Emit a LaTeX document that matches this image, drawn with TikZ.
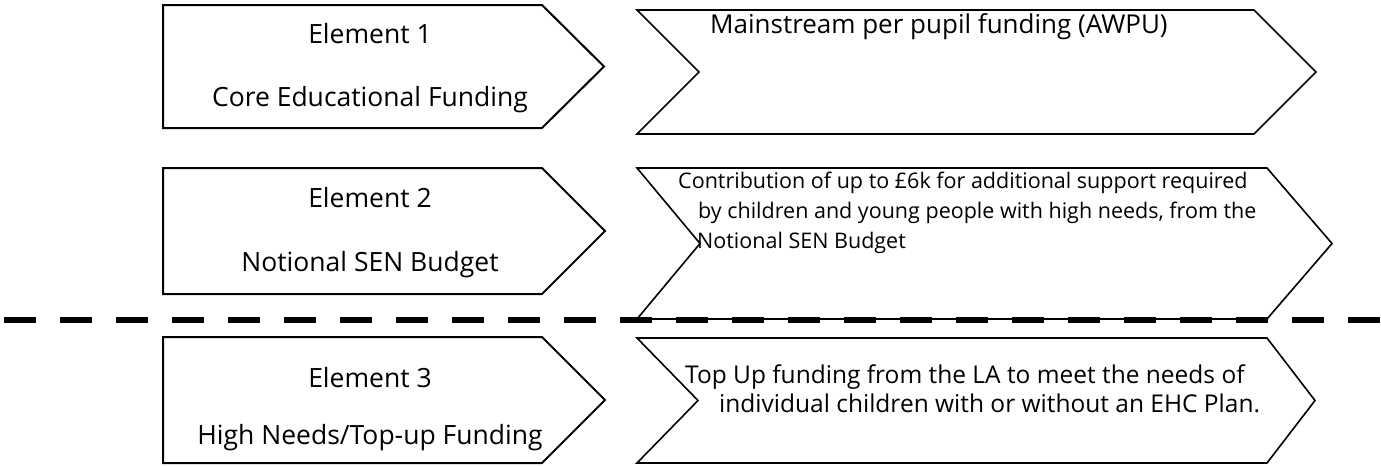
\documentclass[tikz,border=0pt]{standalone}
\usepackage{fontspec}
\setmainfont{Open Sans}
\usetikzlibrary{positioning}

\begin{document}
\begin{tikzpicture}[x=1pt,y=-1pt,
    leftshape/.style={draw, line width=2pt, line join=miter},
    chevshape/.style={draw, line width=1.6pt, line join=miter},
    leftlabel/.style={anchor=base, inner sep=0pt, font=\fontsize{26.5}{30}\selectfont},
    rightlabel/.style={anchor=base west, inner sep=0pt, font=\fontsize{26}{30}\selectfont},
    toplabel/.style={anchor=base west, inner sep=0pt, font=\fontsize{24.5}{28}\selectfont},
    smalllabel/.style={anchor=base west, inner sep=0pt, font=\fontsize{21.5}{25}\selectfont}]
  \useasboundingbox (0,0) rectangle (1381,466);

  % left hand arrows
  \draw[leftshape] (163,5) -- (542,5) -- (604,66.5) -- (542,128) -- (163,128) -- cycle;
  \draw[leftshape] (163,168) -- (542,168) -- (605,231) -- (542,294) -- (163,294) -- cycle;
  \draw[leftshape] (163,337) -- (542,337) -- (605,400) -- (542,463) -- (163,463) -- cycle;

  \node[leftlabel] (elem1) at (370,43) {Element 1};
  \node[leftlabel] (core1) at (370,106) {Core Educational Funding};
  \node[leftlabel] (elem2) at (370,207) {Element 2};
  \node[leftlabel] (sen2) at (370,271) {Notional SEN Budget};
  \node[leftlabel] (elem3) at (370,387) {Element 3};
  \node[leftlabel] (high3) at (370,444) {High Needs/Top-up Funding};

  % right hand chevrons
  \draw[chevshape] (637,10) -- (1254,10) -- (1316,72) -- (1254,134) -- (637,134) -- (699,72) -- cycle;
  \draw[chevshape] (637,168) -- (1267,168) -- (1332,243.5) -- (1267,319) -- (637,319) -- (700,243.5) -- cycle;
  \draw[chevshape] (637,338) -- (1267,338) -- (1315,400.5) -- (1267,463) -- (637,463) -- (698,400.5) -- cycle;

  \node[rightlabel] (awpu) at (710,33) {Mainstream per pupil funding (AWPU)};
  \node[smalllabel] (contrib) at (678,188) {Contribution of up to £6k for additional support required};
  \node[smalllabel] (bychild) at (698,218) {by children and young people with high needs, from the};
  \node[smalllabel] (notional) at (697,248) {Notional SEN Budget};
  \node[toplabel] (topup) at (685,383) {Top Up funding from the LA to meet the needs of};
  \node[toplabel] (indiv) at (719,412) {individual children with or without an EHC Plan.};

  % dividing line
  \draw[line width=6pt, dash pattern=on 32pt off 24pt] (4,320) -- (1381,320);
\end{tikzpicture}
\end{document}
